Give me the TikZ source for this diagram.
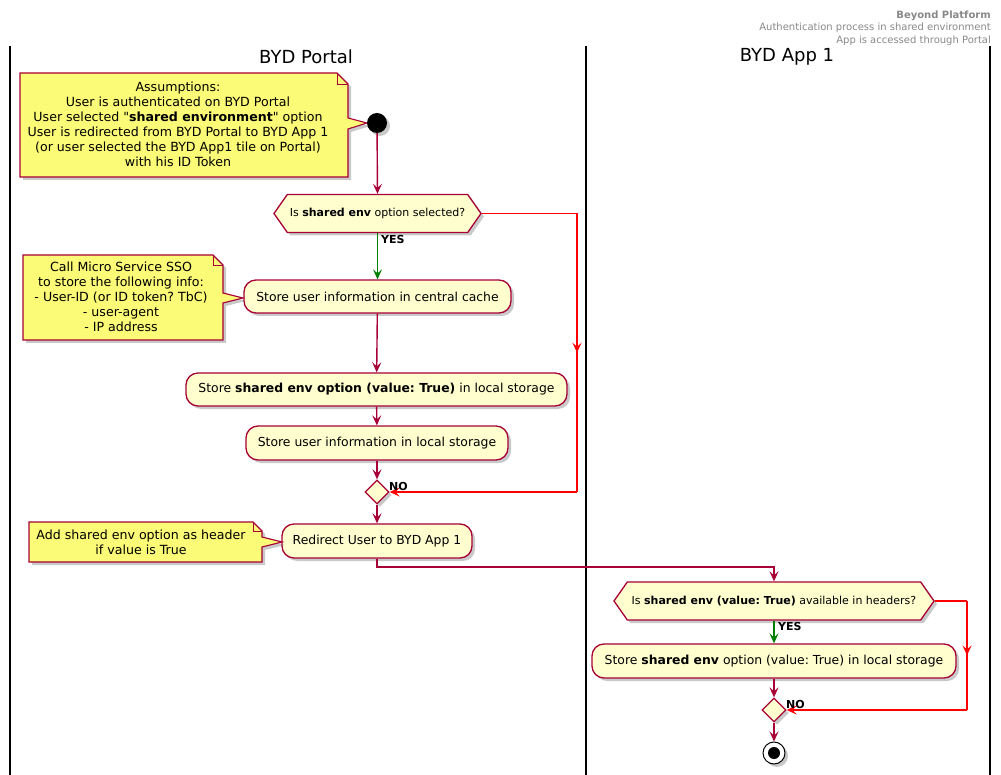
\documentclass[tikz,border=0pt]{standalone}
\usepackage{fontspec}
\setmainfont{DejaVu Sans}
\usetikzlibrary{arrows.meta,shapes.geometric,shapes.symbols,shadows,decorations.markings}
\definecolor{pborder}{HTML}{A80036}
\definecolor{pfill}{HTML}{FEFECE}
\definecolor{nfill}{HTML}{FBFB77}
\definecolor{pgreen}{HTML}{008000}
\definecolor{pred}{HTML}{FF0000}
\definecolor{hgrey}{HTML}{888888}
\frenchspacing
\tikzset{
  shad/.style={drop shadow={shadow xshift=3pt,shadow yshift=-3pt,opacity=0.3,fill=black!70}},
  actbox/.style={rectangle, rounded corners=12pt, draw=pborder, fill=pfill, line width=1.3pt, font=\fontsize{12.4}{15}\selectfont, inner sep=0pt, shad},
  hexa/.style={signal, signal to=west and east, signal pointer angle=110, draw=pborder, fill=pfill, line width=1.3pt, font=\fontsize{11}{13}\selectfont, inner sep=0pt, shad},
  merge/.style={diamond, draw=pborder, fill=pfill, line width=1.3pt, minimum width=24pt, minimum height=24pt, inner sep=0pt, shad},
  flow/.style={draw=pborder, line width=1.4pt, -{Stealth[length=10pt,width=9pt,inset=4pt]}},
  yesflow/.style={flow, draw=pgreen},
  noflow/.style={draw=pred, line width=1.4pt},
  midarrow/.style={postaction={decorate}, decoration={markings, mark=at position 0.5 with {\arrow{Stealth[length=10pt,width=9pt,inset=4pt]}}}},
  lbl/.style={font=\bfseries\fontsize{11}{13}\selectfont, inner sep=0pt, anchor=west},
  notetext/.style={font=\fontsize{12.6}{15}\selectfont, align=center, inner sep=0pt},
  notebox/.style={draw=pborder, fill=nfill, line width=1.1pt, line join=miter, shad},
  lane/.style={line width=2pt, black},
  lanetitle/.style={font=\fontsize{18}{22}\selectfont, inner sep=0pt}
}
\begin{document}
\begin{tikzpicture}[x=1pt,y=-1pt]
\useasboundingbox (0,0) rectangle (1001,775);
% header
\node[anchor=north east, align=right, text=hgrey, font=\fontsize{10}{12.5}\selectfont, inner sep=0pt] (hdr) at (991,10.5)
  {\textbf{Beyond Platform}\\Authentication process in shared environment\\App is accessed through Portal};
% lanes
\draw[lane] (10,46) -- (10,775);
\draw[lane] (586,46) -- (586,775);
\draw[lane] (990,46) -- (990,775);
\node[lanetitle] (t1) at (306,57) {BYD Portal};
\node[lanetitle] (t2) at (787,57) {BYD App 1};

% note 1
\draw[notebox] (20,73) -- (337,73) -- (348,84) -- (348,118) -- (367,123) -- (348,129) -- (348,177) -- (20,177) -- cycle;
\draw[pborder, line width=0.9pt] (337,73) -- (337,84) -- (348,84);
\node[notetext] (n1) at (178,124.5) {Assumptions:\\User is authenticated on BYD Portal\\User selected \textquotedbl\textbf{shared environment}\textquotedbl{} option\\User is redirected from BYD Portal to BYD App 1\\(or user selected the BYD App1 tile on Portal)\\with his ID Token};

% start
\node[circle, fill=black, minimum size=20pt, inner sep=0pt, shad] (start) at (377,123) {};

% decision 1
\node[hexa, minimum width=207pt, minimum height=38pt] (d1) at (377.5,213.5) {Is \textbf{shared env} option selected?};

% boxes portal
\node[actbox, minimum width=267pt, minimum height=33pt] (b1) at (377.5,296.5) {Store user information in central cache};
\node[actbox, minimum width=381pt, minimum height=33pt] (b2) at (376.5,389.5) {Store \textbf{shared env option (value: True)} in local storage};
\node[actbox, minimum width=262pt, minimum height=34pt] (b3) at (377,443) {Store user information in local storage};
\node[merge] (m1) at (377,492) {};
\node[actbox, minimum width=190pt, minimum height=34pt] (b4) at (377,541) {Redirect User to BYD App 1};

% note 2
\draw[notebox] (23,255) -- (213,255) -- (223,265) -- (223,293) -- (243,298) -- (223,303) -- (223,340) -- (23,340) -- cycle;
\draw[pborder, line width=0.9pt] (213,255) -- (213,265) -- (223,265);
\node[notetext] (n2) at (121,297) {Call Micro Service SSO\\to store the following info:\\- User-ID (or ID token? TbC)\\- user-agent\\- IP address};

% note 3
\draw[notebox] (29,522) -- (253,522) -- (262,531) -- (262,537) -- (282,542) -- (262,547) -- (262,562) -- (29,562) -- cycle;
\draw[pborder, line width=0.9pt] (253,522) -- (253,531) -- (262,531);
\node[notetext] (n3) at (141,542) {Add shared env option as header\\if value is True};

% app lane
\node[hexa, minimum width=320pt, minimum height=38pt] (d2) at (774,601) {Is \textbf{shared env (value: True)} available in headers?};
\node[actbox, minimum width=364pt, minimum height=34pt] (b5) at (774,661) {Store \textbf{shared env} option (value: True) in local storage};
\node[merge] (m2) at (774,710) {};
\node[circle, draw=black, fill=white, line width=1pt, minimum size=22pt, inner sep=0pt, shad] (stop) at (774,753) {};
\node[circle, fill=black, minimum size=12pt, inner sep=0pt] (stopin) at (stop.center) {};

% coordinates
\coordinate (r1) at (577,213.5);
\coordinate (r2) at (577,492);
\coordinate (j1) at (377,567);
\coordinate (r3) at (967,601);
\coordinate (r4) at (967,710);

% connectors
\draw[flow] (start) -- (d1.north);
\draw[yesflow] (d1.south) -- (b1.north);
\node[lbl] (yes1) at (381,239) {YES};
\draw[flow] (b1) -- (b2);
\draw[flow] (b2) -- (b3);
\draw[flow] (b3) -- (m1.north);
\draw[noflow] (d1.east) -- (r1);
\draw[noflow, midarrow] (r1) -- (r2);
\draw[noflow, -{Stealth[length=10pt,width=9pt,inset=4pt]}] (r2) -- (m1.east);
\node[lbl] (no1) at (389,486) {NO};
\draw[flow] (m1.south) -- (b4.north);
\draw[flow] (b4.south) -- (j1) -| (d2.north);

\draw[yesflow] (d2.south) -- (b5.north);
\node[lbl] (yes2) at (778,626) {YES};
\draw[flow] (b5) -- (m2.north);
\draw[noflow] (d2.east) -- (r3);
\draw[noflow, midarrow] (r3) -- (r4);
\draw[noflow, -{Stealth[length=10pt,width=9pt,inset=4pt]}] (r4) -- (m2.east);
\node[lbl] (no2) at (786,704) {NO};
\draw[flow] (m2.south) -- (stop.north);
\end{tikzpicture}
\end{document}
